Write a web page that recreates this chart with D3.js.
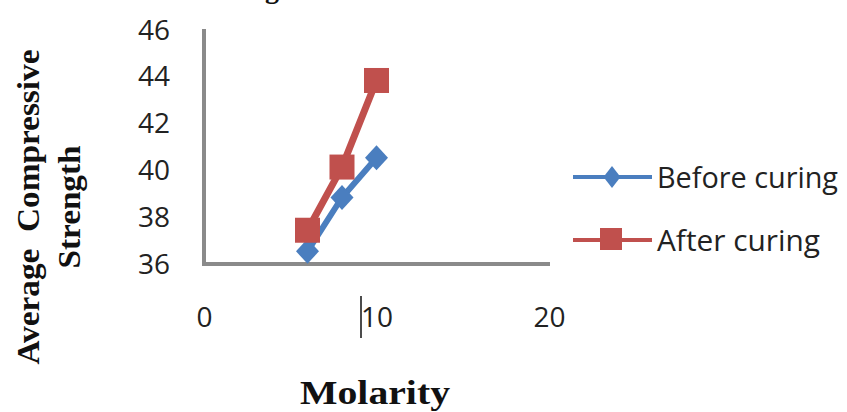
<!DOCTYPE html>
<html>
<head>
<meta charset="utf-8">
<script src="https://cdn.jsdelivr.net/npm/d3@7"></script>
<style>
  html, body { margin: 0; padding: 0; background: #fff; }
  svg { display: block; }
</style>
</head>
<body>
<svg id="chart" width="847" height="412"></svg>
<script>
// ---- data ----
const molarity = [6, 8, 10];
const beforeCuring = [36.5, 38.8, 40.5];
const afterCuring = [37.4, 40.1, 43.8];
const seriesNames = ["Before curing", "After curing"];
const xTicks = [0, 10, 20];
const yTicks = [36, 38, 40, 42, 44, 46];
const xTitle = "Molarity";
const yTitleLines = ["Average  Compressive", "Strength"];

const svg = d3.select("#chart");
const W = 847, H = 412;
svg.append("rect").attr("width", W).attr("height", H).attr("fill", "#fff");

const x = d3.scaleLinear().domain([0, 20]).range([204, 549]);
const y = d3.scaleLinear().domain([36, 46]).range([263, 29]);

const blue = "#4a7ebf", red = "#c0504d", axisGray = "#8a8a8a";
const labelFont = "'Open Sans', 'Liberation Sans', sans-serif";
const serif = "'Liberation Serif', 'DejaVu Serif', serif";

// cut-off title fragment at top (only its descender shows in the original)
svg.append("text").attr("x", 272).attr("y", -2)
  .attr("text-anchor", "middle")
  .attr("font-family", serif).attr("font-weight", "bold").attr("font-size", 28)
  .attr("fill", "#111").text("g");

// y axis labels
const yAxis = d3.axisLeft(y).tickValues(yTicks).tickSize(0).tickPadding(0);
const gy = svg.append("g").attr("transform", `translate(${x(0)},0)`).call(yAxis);
gy.select(".domain").remove();
gy.selectAll("text")
  .attr("x", -34).attr("dy", null).attr("y", -1)
  .attr("dominant-baseline", "central")
  .attr("font-family", labelFont).attr("font-size", 28).attr("fill", "#222");

// x axis labels (placed low, as in the original)
const xAxis = d3.axisBottom(x).tickValues(xTicks).tickSize(0).tickPadding(0);
const gx = svg.append("g").attr("transform", `translate(0,${y(36)})`).call(xAxis);
gx.select(".domain").remove();
gx.selectAll("text")
  .attr("dy", null).attr("y", 64)
  .attr("font-family", labelFont).attr("font-size", 28).attr("fill", "#222");

// axis lines
svg.append("line").attr("x1", x(0)).attr("x2", x(0)).attr("y1", y(46)).attr("y2", y(36) + 2)
  .attr("stroke", axisGray).attr("stroke-width", 4);
svg.append("line").attr("x1", x(0) - 2).attr("x2", x(20) + 1).attr("y1", y(36) + 1).attr("y2", y(36) + 1)
  .attr("stroke", axisGray).attr("stroke-width", 4);

// text cursor artifact near "10"
svg.append("line").attr("x1", 361).attr("x2", 361).attr("y1", 296).attr("y2", 338)
  .attr("stroke", "#111").attr("stroke-width", 1.5);

// series
const line = d3.line().x(d => x(d[0])).y(d => y(d[1]));
const beforePts = molarity.map((m, i) => [m, beforeCuring[i]]);
const afterPts = molarity.map((m, i) => [m, afterCuring[i]]);

function diamond(g, cx, cy, w, h, color) {
  g.append("path")
    .attr("d", `M${cx},${cy - h / 2}L${cx + w / 2},${cy}L${cx},${cy + h / 2}L${cx - w / 2},${cy}Z`)
    .attr("fill", color);
}
function square(g, cx, cy, s, color) {
  g.append("rect").attr("x", cx - s / 2).attr("y", cy - s / 2)
    .attr("width", s).attr("height", s).attr("fill", color);
}

const gB = svg.append("g");
gB.append("path").datum(beforePts).attr("d", line)
  .attr("fill", "none").attr("stroke", blue).attr("stroke-width", 6);
beforePts.forEach(p => diamond(gB, x(p[0]), y(p[1]), 23, 25, blue));

const gA = svg.append("g");
gA.append("path").datum(afterPts).attr("d", line)
  .attr("fill", "none").attr("stroke", red).attr("stroke-width", 7);
afterPts.forEach(p => square(gA, x(p[0]), y(p[1]), 25, red));

// legend
const legend = svg.append("g");
const legY = [177, 240];
const colors = [blue, red];
seriesNames.forEach((name, i) => {
  legend.append("line").attr("x1", 573).attr("x2", 652)
    .attr("y1", legY[i]).attr("y2", legY[i])
    .attr("stroke", colors[i]).attr("stroke-width", 4);
  if (i === 0) diamond(legend, 612, legY[i], 17, 22, blue);
  else square(legend, 611, legY[i] - 1, 22, red);
  legend.append("text").attr("x", 657).attr("y", legY[i] + 11)
    .attr("font-family", labelFont).attr("font-size", 29).attr("fill", "#222")
    .attr("textLength", i === 0 ? 181 : 163).attr("lengthAdjust", "spacingAndGlyphs")
    .text(name);
});

// x title
svg.append("text").attr("x", 375).attr("y", 404)
  .attr("text-anchor", "middle")
  .attr("font-family", serif).attr("font-weight", "bold").attr("font-size", 33)
  .attr("fill", "#111").attr("textLength", 150).attr("lengthAdjust", "spacingAndGlyphs")
  .text(xTitle);

// y title (two lines, rotated)
const yLens = [315, 123];
const yBase = [39, 80];
yTitleLines.forEach((t, i) => {
  svg.append("text")
    .attr("transform", `translate(${yBase[i]},207) rotate(-90)`)
    .attr("text-anchor", "middle")
    .attr("font-family", serif).attr("font-weight", "bold").attr("font-size", 31)
    .attr("fill", "#111").attr("textLength", yLens[i]).attr("lengthAdjust", "spacingAndGlyphs")
    .attr("xml:space", "preserve")
    .text(t);
});
</script>
</body>
</html>
